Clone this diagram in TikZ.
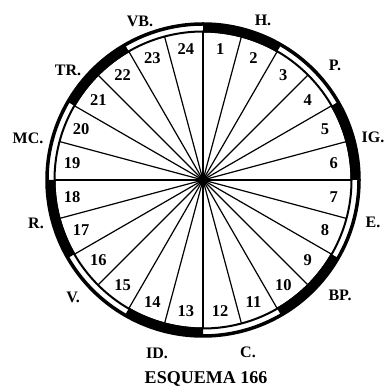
\documentclass[tikz,border=0pt]{standalone}
\usepackage{fontspec}
\setmainfont{Liberation Serif}
\usetikzlibrary{calc}
\begin{document}
\begin{tikzpicture}[x=1pt,y=1pt,
  num/.style={font=\bfseries\fontsize{16.5}{16.5}\selectfont, inner sep=0pt},
  lab/.style={font=\bfseries\fontsize{16}{16}\selectfont, inner sep=0pt},
  spoke/.style={line width=1.2pt},
  band/.style={fill=black}]
\useasboundingbox (0,0) rectangle (387,387);
\coordinate (c) at (203,207);
% black band segments
\foreach \a in {60,0,-60,-120,-180,-240}{
  \fill[band] ($(c)+(\a:147.5)$) arc[start angle=\a, end angle=\a+30, radius=147.5]
    -- ($(c)+(\a+30:157)$) arc[start angle=\a+30, end angle=\a, radius=157] -- cycle;
}
\draw[line width=3.5pt] (c) circle[radius=156];
\draw[line width=2pt] (c) circle[radius=148.5];
% spokes
\foreach \k in {0,...,23}{
  \coordinate (e\k) at ($(c)+(90-15*\k:148)$);
  \draw[spoke] (c) -- (e\k);
}
\node[circle, fill=black, inner sep=0pt, minimum size=10pt] (hub) at (c) {};
% numbers
\foreach \n in {1,...,24}{
  \node[num] (n\n) at ($(c)+(97.5-15*\n:132)$) {\n};
}
% labels
\node[lab] (H) at (263,367) {H.};
\node[lab] (VB) at (140,366) {VB.};
\node[lab] (P) at (335,322) {P.};
\node[lab] (IG) at (373,250) {IG.};
\node[lab] (E) at (373,165) {E.};
\node[lab] (BP) at (340,92) {BP.};
\node[lab] (C) at (248,35) {C.};
\node[lab] (ID) at (157,34) {ID.};
\node[lab] (V) at (73,90) {V.};
\node[lab] (R) at (36,164) {R.};
\node[lab] (MC) at (28,249) {MC.};
\node[lab] (TR) at (68,317) {TR.};
\node[lab, font=\bfseries\fontsize{18}{18}\selectfont] (cap) at (206,8) {ESQUEMA 166};
\end{tikzpicture}
\end{document}
